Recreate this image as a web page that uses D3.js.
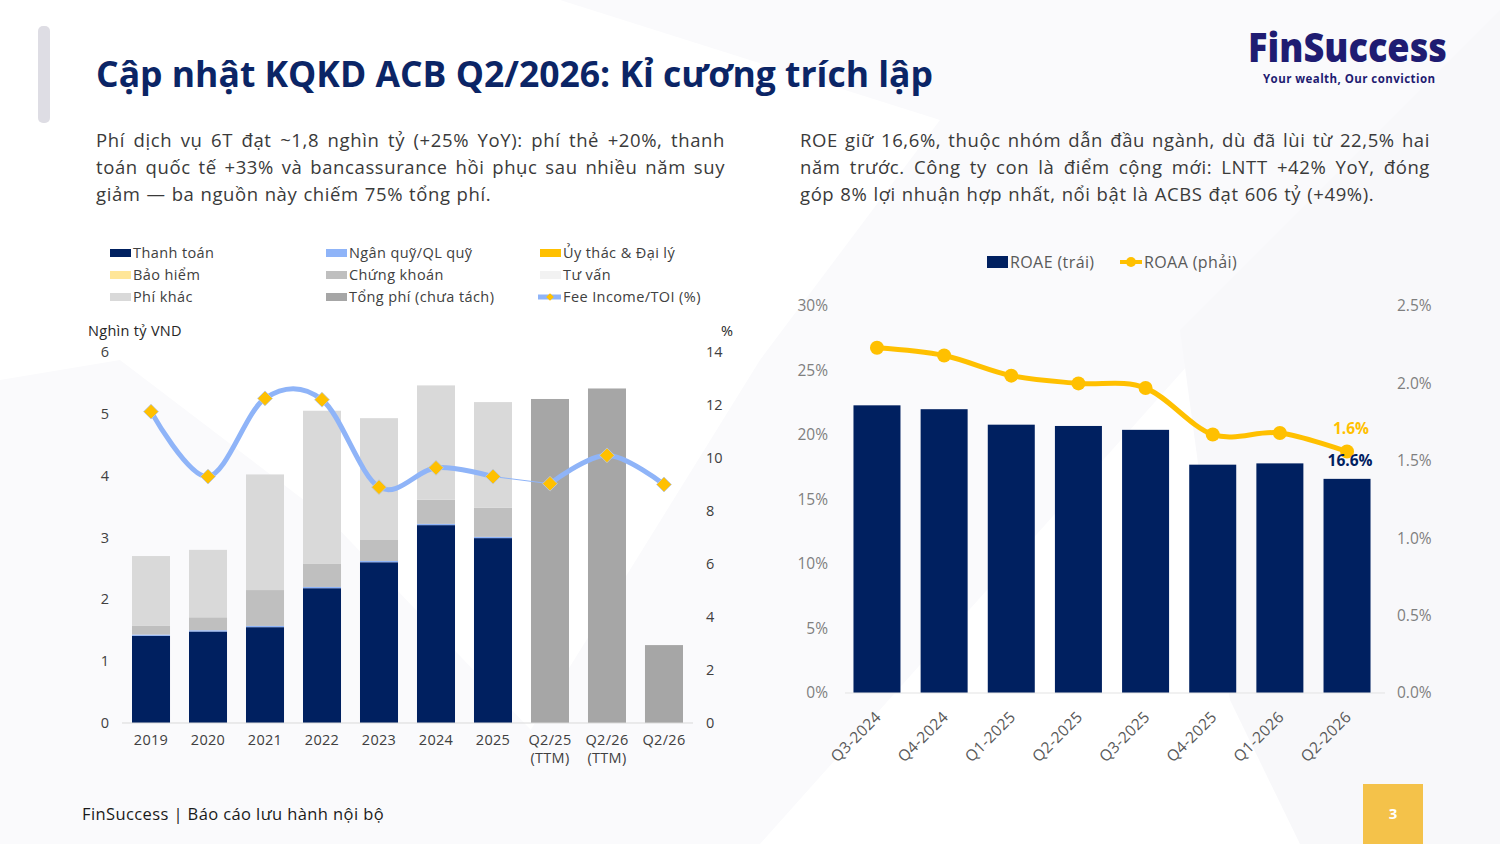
<!DOCTYPE html>
<html>
<head>
<meta charset="utf-8">
<script src="https://cdn.jsdelivr.net/npm/d3@7"></script>
<style>
  body { margin: 0; background: #fff; }
  svg { display: block; }
  text { font-family: "Open Sans", "Noto Sans", sans-serif; }
</style>
</head>
<body>
<script>
var W = 1500, H = 844;

// ---- left chart data (nghìn tỷ VND) ----
var feeCats   = ["2019", "2020", "2021", "2022", "2023", "2024", "2025", "Q2/25 (TTM)", "Q2/26 (TTM)", "Q2/26"];
var thanhToan = [1.41, 1.48, 1.55, 2.18, 2.60, 3.20, 2.99, 0, 0, 0];
var nganQuy   = [0.02, 0.02, 0.02, 0.02, 0.02, 0.02, 0.02, 0, 0, 0];
var uyThac    = [0, 0, 0, 0, 0, 0, 0, 0, 0, 0];
var baoHiem   = [0, 0, 0, 0, 0, 0, 0, 0, 0, 0];
var chungKhoan= [0.14, 0.21, 0.58, 0.38, 0.34, 0.39, 0.47, 0, 0, 0];
var tuVan     = [0, 0, 0, 0, 0, 0, 0, 0, 0, 0];
var phiKhac   = [1.13, 1.09, 1.87, 2.47, 1.97, 1.85, 1.71, 0, 0, 0];
var tongPhi   = [0, 0, 0, 0, 0, 0, 0, 5.24, 5.41, 1.26];
var feeToi    = [11.75, 9.3, 12.25, 12.2, 8.9, 9.63, 9.3, 9.03, 10.1, 9.0];
var feeLeftTicks  = [0, 1, 2, 3, 4, 5, 6];
var feeRightTicks = [0, 2, 4, 6, 8, 10, 12, 14];

// ---- right chart data (%) ----
var quarters = ["Q3-2024", "Q4-2024", "Q1-2025", "Q2-2025", "Q3-2025", "Q4-2025", "Q1-2026", "Q2-2026"];
var roae = [22.3, 22.0, 20.8, 20.7, 20.4, 17.7, 17.8, 16.6];
var roaa = [2.23, 2.18, 2.05, 2.00, 1.97, 1.67, 1.68, 1.56];
var roaeTicks = [0, 5, 10, 15, 20, 25, 30];
var roaaTicks = [0, 0.5, 1.0, 1.5, 2.0, 2.5];

var seriesNames = ["Thanh toán", "Ngân quỹ/QL quỹ", "Ủy thác & Đại lý", "Bảo hiểm", "Chứng khoán", "Tư vấn", "Phí khác", "Tổng phí (chưa tách)"];
var seriesCols  = ["#002060", "#8FB4F8", "#FFC000", "#FFE699", "#BFBFBF", "#F2F2F2", "#D9D9D9", "#A6A6A6"];
var seriesVals  = [thanhToan, nganQuy, uyThac, baoHiem, chungKhoan, tuVan, phiKhac, tongPhi];

var navy = "#0B2566";

var svg = d3.select("body").append("svg")
    .attr("width", W)
    .attr("height", H);

// faint background shapes
var bg = svg.append("g");
bg.append("polygon").attr("points", "560,0 1500,0 1500,20 1380,150 760,844 460,844 760,360 940,120").attr("fill", "#fafafc");
bg.append("polygon").attr("points", "0,380 0,844 420,844 640,844 330,520 120,360").attr("fill", "#fafafc");
bg.append("polygon").attr("points", "1180,330 1500,10 1500,844 1300,844 1230,700").attr("fill", "#f8f8fa");

// left accent bar
svg.append("rect").attr("x", 38).attr("y", 26).attr("width", 12).attr("height", 97)
    .attr("rx", 5).attr("fill", "#dedde4");

// title
svg.append("text").attr("x", 96).attr("y", 87)
    .attr("font-size", 35).attr("font-weight", 700).attr("fill", navy)
    .attr("textLength", 837).attr("lengthAdjust", "spacingAndGlyphs")
    .text("Cập nhật KQKD ACB Q2/2026: Kỉ cương trích lập");

// logo
var logo = svg.append("g");
logo.append("text").attr("x", 1248).attr("y", 62)
    .attr("font-size", 40).attr("font-weight", 800).attr("fill", "#1f1c72")
    .attr("textLength", 199).attr("lengthAdjust", "spacingAndGlyphs")
    .text("FinSuccess");
logo.append("text").attr("x", 1263).attr("y", 83)
    .attr("font-size", 11.5).attr("font-weight", 700).attr("fill", "#1f1c72")
    .attr("textLength", 172).attr("lengthAdjust", "spacing")
    .text("Your wealth, Our conviction");

// justified paragraph helper
function paragraph(lines, x0, x1, y0, lh) {
  var g = svg.append("g");
  lines.forEach(function(line, li) {
    var words = line.split(" ");
    var t = g.append("text").attr("y", y0 + li * lh)
        .attr("font-size", 18.5).attr("letter-spacing", 0.6).attr("fill", "#3a3a3a");
    var spans = words.map(function(w) { return t.append("tspan").text(w); });
    var widths = spans.map(function(s) { return s.node().getComputedTextLength(); });
    var last = li === lines.length - 1;
    var gap = last ? 6 : (x1 - x0 - d3.sum(widths)) / (words.length - 1);
    var x = x0;
    spans.forEach(function(s, i) { s.attr("x", x); x += widths[i] + gap; });
  });
}
paragraph([
  "Phí dịch vụ 6T đạt ~1,8 nghìn tỷ (+25% YoY): phí thẻ +20%, thanh",
  "toán quốc tế +33% và bancassurance hồi phục sau nhiều năm suy",
  "giảm — ba nguồn này chiếm 75% tổng phí."
], 96, 725, 147, 27);
paragraph([
  "ROE giữ 16,6%, thuộc nhóm dẫn đầu ngành, dù đã lùi từ 22,5% hai",
  "năm trước. Công ty con là điểm cộng mới: LNTT +42% YoY, đóng",
  "góp 8% lợi nhuận hợp nhất, nổi bật là ACBS đạt 606 tỷ (+49%)."
], 800, 1430, 147, 27);

// ================= LEFT CHART =================
var lc = svg.append("g");
var xL = d3.scaleBand().domain(feeCats).range([122.5, 692.5]).paddingInner(0.333).paddingOuter(0.1667);
var yL = d3.scaleLinear().domain([0, 6]).range([723, 352]);
var yR = d3.scaleLinear().domain([0, 14]).range([723, 352]);

// legend
var legG = lc.append("g").attr("font-size", 14.5).attr("letter-spacing", 0.4).attr("fill", "#404040");
var legX = [110, 326, 540];
var legItems = seriesNames.concat(["Fee Income/TOI (%)"]);
legItems.forEach(function(name, i) {
  var col = i % 3, row = Math.floor(i / 3);
  var lx = legX[col], ly = 253 + row * 22;
  if (i < 8) {
    legG.append("rect").attr("x", lx).attr("y", ly - 4).attr("width", 21).attr("height", 8)
        .attr("fill", seriesCols[i]);
  } else {
    legG.append("line").attr("x1", lx - 2).attr("x2", lx + 21).attr("y1", ly).attr("y2", ly)
        .attr("stroke", "#8FB4F8").attr("stroke-width", 5);
    legG.append("path").attr("d", d3.symbol(d3.symbolSquare, 30)())
        .attr("transform", "translate(" + (lx + 10) + "," + ly + ") rotate(45)")
        .attr("fill", "#FFC000");
  }
  legG.append("text").attr("x", lx + 23).attr("y", ly + 5).text(name);
});

lc.append("text").attr("x", 88).attr("y", 336).attr("font-size", 14.5).attr("letter-spacing", 0.3)
    .attr("fill", "#262626").text("Nghìn tỷ VND");
lc.append("text").attr("x", 721).attr("y", 336).attr("font-size", 14.5).attr("fill", "#262626").text("%");

// stacked bars
var feeTable = feeCats.map(function(c, i) {
  var row = { cat: c };
  seriesNames.forEach(function(n, k) { row[n] = seriesVals[k][i]; });
  return row;
});
var stacked = d3.stack().keys(seriesNames)(feeTable);
lc.append("g").selectAll("g")
  .data(stacked)
  .enter().append("g")
    .attr("fill", function(d, i) { return seriesCols[i]; })
  .selectAll("rect")
  .data(function(d) { return d; })
  .enter().append("rect")
    .attr("x", function(d) { return xL(d.data.cat); })
    .attr("y", function(d) { return yL(d[1]); })
    .attr("width", xL.bandwidth())
    .attr("height", function(d) { return yL(d[0]) - yL(d[1]); });

// axes
var axL = lc.append("g").attr("transform", "translate(116,0)")
    .call(d3.axisLeft(yL).tickValues(feeLeftTicks).tickSize(0).tickPadding(7).tickFormat(d3.format("d")));
var axR = lc.append("g").attr("transform", "translate(700,0)")
    .call(d3.axisRight(yR).tickValues(feeRightTicks).tickSize(0).tickPadding(6).tickFormat(d3.format("d")));
[axL, axR].forEach(function(a) {
  a.select(".domain").remove();
  a.selectAll("text").attr("font-size", 14.5).attr("fill", "#404040").attr("font-family", null);
});
var axB = lc.append("g").attr("transform", "translate(0,723)")
    .call(d3.axisBottom(xL).tickSize(0).tickPadding(12).tickSizeOuter(0));
axB.select(".domain").attr("stroke", "#d9d9d9").attr("d", "M122,0H693");
axB.selectAll("text").attr("font-size", 14.5).attr("letter-spacing", 0.3).attr("fill", "#404040").attr("font-family", null)
  .each(function(d) {
    var parts = d.split(" ");
    var t = d3.select(this).text(null);
    parts.forEach(function(p, i) {
      t.append("tspan").attr("x", 0).attr("dy", i === 0 ? "0.71em" : "1.25em").text(p);
    });
  });

// Fee income / TOI line
var linePts = feeCats.map(function(c, i) { return [xL(c) + xL.bandwidth() / 2, yR(feeToi[i])]; });
var smooth = d3.line().curve(d3.curveCardinal.tension(0));
lc.append("path").attr("d", d3.line()([linePts[6], linePts[7]]))
    .attr("fill", "none").attr("stroke", "#8FB4F8").attr("stroke-width", 1);
lc.append("path").attr("d", smooth(linePts.slice(0, 7)))
    .attr("fill", "none").attr("stroke", "#8FB4F8").attr("stroke-width", 5);
lc.append("path").attr("d", smooth(linePts.slice(7)))
    .attr("fill", "none").attr("stroke", "#8FB4F8").attr("stroke-width", 5);
lc.append("g").selectAll("path")
  .data(linePts)
  .enter().append("path")
    .attr("d", d3.symbol(d3.symbolSquare, 110)())
    .attr("transform", function(d) { return "translate(" + d[0] + "," + d[1] + ") rotate(45)"; })
    .attr("fill", "#FFC000")
    .attr("stroke", "#b9c6de")
    .attr("stroke-width", 0.8);

// ================= RIGHT CHART =================
var rc = svg.append("g");
var xQ = d3.scaleBand().domain(quarters).range([843.4, 1380.6]).paddingInner(0.3).paddingOuter(0.15);
var yE = d3.scaleLinear().domain([0, 30]).range([693, 306]);
var yA = d3.scaleLinear().domain([0, 2.5]).range([693, 306]);

// legend
rc.append("rect").attr("x", 987).attr("y", 256).attr("width", 21).attr("height", 12).attr("fill", "#002060");
rc.append("text").attr("x", 1010).attr("y", 268).attr("font-size", 16).attr("letter-spacing", 0.4)
    .attr("fill", "#595959").text("ROAE (trái)");
rc.append("line").attr("x1", 1120).attr("x2", 1142).attr("y1", 262).attr("y2", 262)
    .attr("stroke", "#FFC000").attr("stroke-width", 4);
rc.append("circle").attr("cx", 1131).attr("cy", 262).attr("r", 5).attr("fill", "#FFC000");
rc.append("text").attr("x", 1144).attr("y", 268).attr("font-size", 16).attr("letter-spacing", 0.4)
    .attr("fill", "#595959").text("ROAA (phải)");

rc.append("g").selectAll("rect")
  .data(roae)
  .enter().append("rect")
    .attr("x", function(d, i) { return xQ(quarters[i]); })
    .attr("y", function(d) { return yE(d); })
    .attr("width", xQ.bandwidth())
    .attr("height", function(d) { return yE(0) - yE(d); })
    .attr("fill", "#002060");

var axE = rc.append("g").attr("transform", "translate(835,0)")
    .call(d3.axisLeft(yE).tickValues(roaeTicks).tickSize(0).tickPadding(7).tickFormat(function(d) { return d + "%"; }));
var axA = rc.append("g").attr("transform", "translate(1391,0)")
    .call(d3.axisRight(yA).tickValues(roaaTicks).tickSize(0).tickPadding(6).tickFormat(function(d) { return d.toFixed(1) + "%"; }));
[axE, axA].forEach(function(a) {
  a.select(".domain").remove();
  a.selectAll("text").attr("font-size", 15.5).attr("fill", "#7f7f7f").attr("font-family", null);
});
var axQ = rc.append("g").attr("transform", "translate(0,693)")
    .call(d3.axisBottom(xQ).tickSize(0).tickSizeOuter(0));
axQ.select(".domain").attr("stroke", "#e3e3e3").attr("d", "M845,0H1385");
axQ.selectAll("text")
    .attr("font-size", 15.5).attr("letter-spacing", 0.3).attr("fill", "#595959").attr("font-family", null)
    .attr("text-anchor", "end")
    .attr("dy", null)
    .attr("transform", "translate(3,23) rotate(-45)");

var roaaPts = quarters.map(function(q, i) { return [xQ(q) + xQ.bandwidth() / 2, yA(roaa[i])]; });
rc.append("path").attr("d", d3.line().curve(d3.curveCardinal.tension(0))(roaaPts))
    .attr("fill", "none").attr("stroke", "#FFC000").attr("stroke-width", 5);
rc.append("g").selectAll("circle")
  .data(roaaPts)
  .enter().append("circle")
    .attr("cx", function(d) { return d[0]; })
    .attr("cy", function(d) { return d[1]; })
    .attr("r", 7)
    .attr("fill", "#FFC000");

var lastQ = quarters[quarters.length - 1];
var lastX = xQ(lastQ) + xQ.bandwidth() / 2;
rc.append("text").attr("x", lastX + 4).attr("y", yA(roaa[roaa.length - 1]) - 18)
    .attr("text-anchor", "middle").attr("font-size", 15.5).attr("font-weight", 700).attr("fill", "#FFC000")
    .text(d3.format(".1f")(roaa[roaa.length - 1]) + "%");
rc.append("text").attr("x", lastX + 3).attr("y", yE(roae[roae.length - 1]) - 13)
    .attr("text-anchor", "middle").attr("font-size", 15.5).attr("font-weight", 700).attr("fill", "#002060")
    .text(d3.format(".1f")(roae[roae.length - 1]) + "%");

// footer
svg.append("text").attr("x", 82).attr("y", 820).attr("font-size", 16.5).attr("letter-spacing", 0.4)
    .attr("fill", "#1a1a1a").text("FinSuccess | Báo cáo lưu hành nội bộ");
svg.append("rect").attr("x", 1363).attr("y", 784).attr("width", 60).attr("height", 60).attr("fill", "#F4C24A");
svg.append("text").attr("x", 1393).attr("y", 819).attr("text-anchor", "middle")
    .attr("font-size", 15).attr("font-weight", 700).attr("fill", "#fff").text("3");
</script>
</body>
</html>
